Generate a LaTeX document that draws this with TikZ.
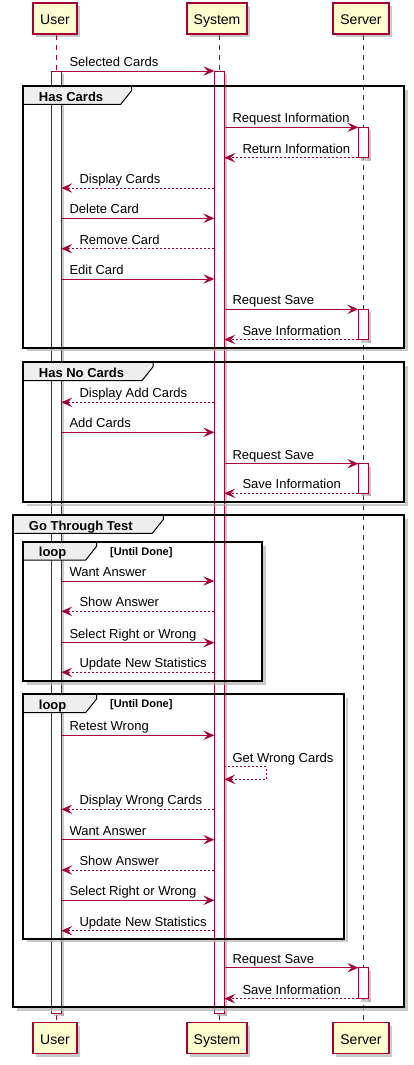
\documentclass[tikz,border=0pt]{standalone}
\usepackage{fontspec}
\setmainfont{Liberation Sans}
\usetikzlibrary{arrows.meta,shadows,calc}
\definecolor{pcol}{HTML}{A80036}
\definecolor{pfill}{HTML}{FEFECE}
\definecolor{hdr}{HTML}{EEEEEE}
\tikzset{
 part/.style={draw=pcol, fill=pfill, line width=1.1pt, minimum height=31pt, inner sep=0pt,
   text height=13pt, text depth=0pt,
   font=\fontsize{14}{16}\selectfont,
   drop shadow={shadow xshift=3pt, shadow yshift=-3pt, opacity=0.35, fill=black!60}},
 lifeline/.style={draw=pcol, line width=0.8pt, dash pattern=on 5pt off 5pt},
 actbar/.style={draw=pcol, fill=white, line width=0.9pt},
 actshadow/.style={fill=black!35, opacity=0.6},
 msg/.style={draw=pcol, line width=0.9pt, -{Stealth[length=11pt,width=9.5pt,inset=4.5pt]}},
 ret/.style={msg, dash pattern=on 2pt off 2pt},
 lbl/.style={anchor=base west, inner sep=0pt, font=\fontsize{13}{15}\selectfont},
 frm/.style={draw=black, line width=1.9pt},
 frmshadow/.style={draw=black!30, line width=2.5pt, opacity=0.7},
 tab/.style={draw=black, fill=hdr, line width=1pt},
 ttl/.style={anchor=base west, inner sep=0pt, font=\bfseries\fontsize{13}{15}\selectfont},
 grd/.style={anchor=base west, inner sep=0pt, font=\bfseries\fontsize{11}{13}\selectfont},
}
% name x1 x2 y label
\newcommand\callmsg[5]{%
 \coordinate (#1a) at (#2,#4); \coordinate (#1b) at (#3,#4);
 \draw[msg] (#1a) -- (#1b);
 \node[lbl] (#1t) at (#2+8,#4-4.5) {#5};}
\newcommand\retmsg[5]{%
 \coordinate (#1a) at (#2,#4); \coordinate (#1b) at (#3,#4);
 \draw[ret] (#1a) -- (#1b);
 \node[lbl] (#1t) at (#3+18,#4-4.5) {#5};}
% x1 x2 y1 y2
\newcommand\actbox[4]{%
 \fill[actshadow] (#2,#3+3) rectangle (#2+3,#4+3);
 \fill[actshadow] (#1+3,#4) rectangle (#2+3,#4+3);
 \filldraw[actbar] (#1,#3) rectangle (#2,#4);}
% l t r b tabR title
\newcommand\grp[6]{%
 \draw[frmshadow] (#1+4,#4+2.5) -- (#3+2.5,#4+2.5) -- (#3+2.5,#2+4);
 \filldraw[tab] (#1,#2) -- (#5,#2) -- (#5,#2+4.5) -- (#5-11,#2+18.3) -- (#1,#2+18.3) -- cycle;
 \draw[frm] (#1,#2) rectangle (#3,#4);
 \node[ttl] at (#1+15.7,#2+15) {#6};}
\begin{document}
\begin{tikzpicture}[x=1pt,y=-1pt]
\useasboundingbox (0,0) rectangle (414,1065);
% participants
\node[part, minimum width=44pt] (uTop) at (55,18.5) {User};
\node[part, minimum width=60pt] (sTop) at (217,18.5) {System};
\node[part, minimum width=56pt] (vTop) at (361,18.5) {Server};
\node[part, minimum width=44pt] (uBot) at (55,1038) {User};
\node[part, minimum width=60pt] (sBot) at (217,1038) {System};
\node[part, minimum width=56pt] (vBot) at (361,1038) {Server};
% lifelines
\draw[lifeline] ($(uTop.south)+(1,0)$) -- ($(uBot.north)+(1,0)$);
\draw[lifeline] ($(sTop.south)+(2,0)$) -- ($(sBot.north)+(2,0)$);
\draw[lifeline] ($(vTop.south)+(2,0)$) -- ($(vBot.north)+(2,0)$);
% activation bars
\actbox{51.3}{61.3}{71}{1013}
\actbox{214.3}{224.3}{71}{1013}
\actbox{358.3}{368.3}{127.3}{157.7}
\actbox{358.3}{368.3}{309.3}{339.5}
\actbox{358.3}{368.3}{463.7}{493.3}
\actbox{358.3}{368.3}{967.7}{998.7}
% frames
\grp{23}{86}{404}{347.7}{131.7}{Has Cards}
\grp{23}{362.3}{404}{502.3}{153}{Has No Cards}
\grp{13}{515}{404}{1007}{163.3}{Go Through Test}
\grp{23}{541.7}{262}{681}{96.7}{loop}
\node[grd] at (110,555.2) {[Until Done]};
\grp{23}{694.3}{344.3}{938.7}{96.7}{loop}
\node[grd] at (110,707.8) {[Until Done]};
% messages
\callmsg{m1}{61.3}{214.3}{71}{Selected Cards}
\callmsg{m2}{224.3}{358.3}{127.3}{Request Information}
\retmsg{m3}{358.3}{224.3}{157.7}{Return Information}
\retmsg{m4}{214.3}{61.3}{188}{Display Cards}
\callmsg{m5}{61.3}{214.3}{218.3}{Delete Card}
\retmsg{m6}{214.3}{61.3}{248.7}{Remove Card}
\callmsg{m7}{61.3}{214.3}{279}{Edit Card}
\callmsg{m8}{224.3}{358.3}{309.3}{Request Save}
\retmsg{m9}{358.3}{224.3}{339.5}{Save Information}
\retmsg{m10}{214.3}{61.3}{402.3}{Display Add Cards}
\callmsg{m11}{61.3}{214.3}{432.3}{Add Cards}
\callmsg{m12}{224.3}{358.3}{463.7}{Request Save}
\retmsg{m13}{358.3}{224.3}{493.3}{Save Information}
\callmsg{m14}{61.3}{214.3}{581}{Want Answer}
\retmsg{m15}{214.3}{61.3}{611.3}{Show Answer}
\callmsg{m16}{61.3}{214.3}{642.7}{Select Right or Wrong}
\retmsg{m17}{214.3}{61.3}{672.3}{Update New Statistics}
\callmsg{m18}{61.3}{214.3}{735.3}{Retest Wrong}
% self message
\coordinate (s1a) at (224.3,766.7);
\coordinate (s1c) at (266.3,766.7);
\coordinate (s1d) at (266.3,779.3);
\coordinate (s1b) at (224.3,779.3);
\draw[ret] (s1a) -- (s1c) -- (s1d) -- (s1b);
\node[lbl] (s1t) at (232.3,762) {Get Wrong Cards};
\retmsg{m19}{214.3}{61.3}{809.3}{Display Wrong Cards}
\callmsg{m20}{61.3}{214.3}{839.7}{Want Answer}
\retmsg{m21}{214.3}{61.3}{870}{Show Answer}
\callmsg{m22}{61.3}{214.3}{900.3}{Select Right or Wrong}
\retmsg{m23}{214.3}{61.3}{930.7}{Update New Statistics}
\callmsg{m24}{224.3}{358.3}{967.7}{Request Save}
\retmsg{m25}{358.3}{224.3}{998.7}{Save Information}
\end{tikzpicture}
\end{document}
